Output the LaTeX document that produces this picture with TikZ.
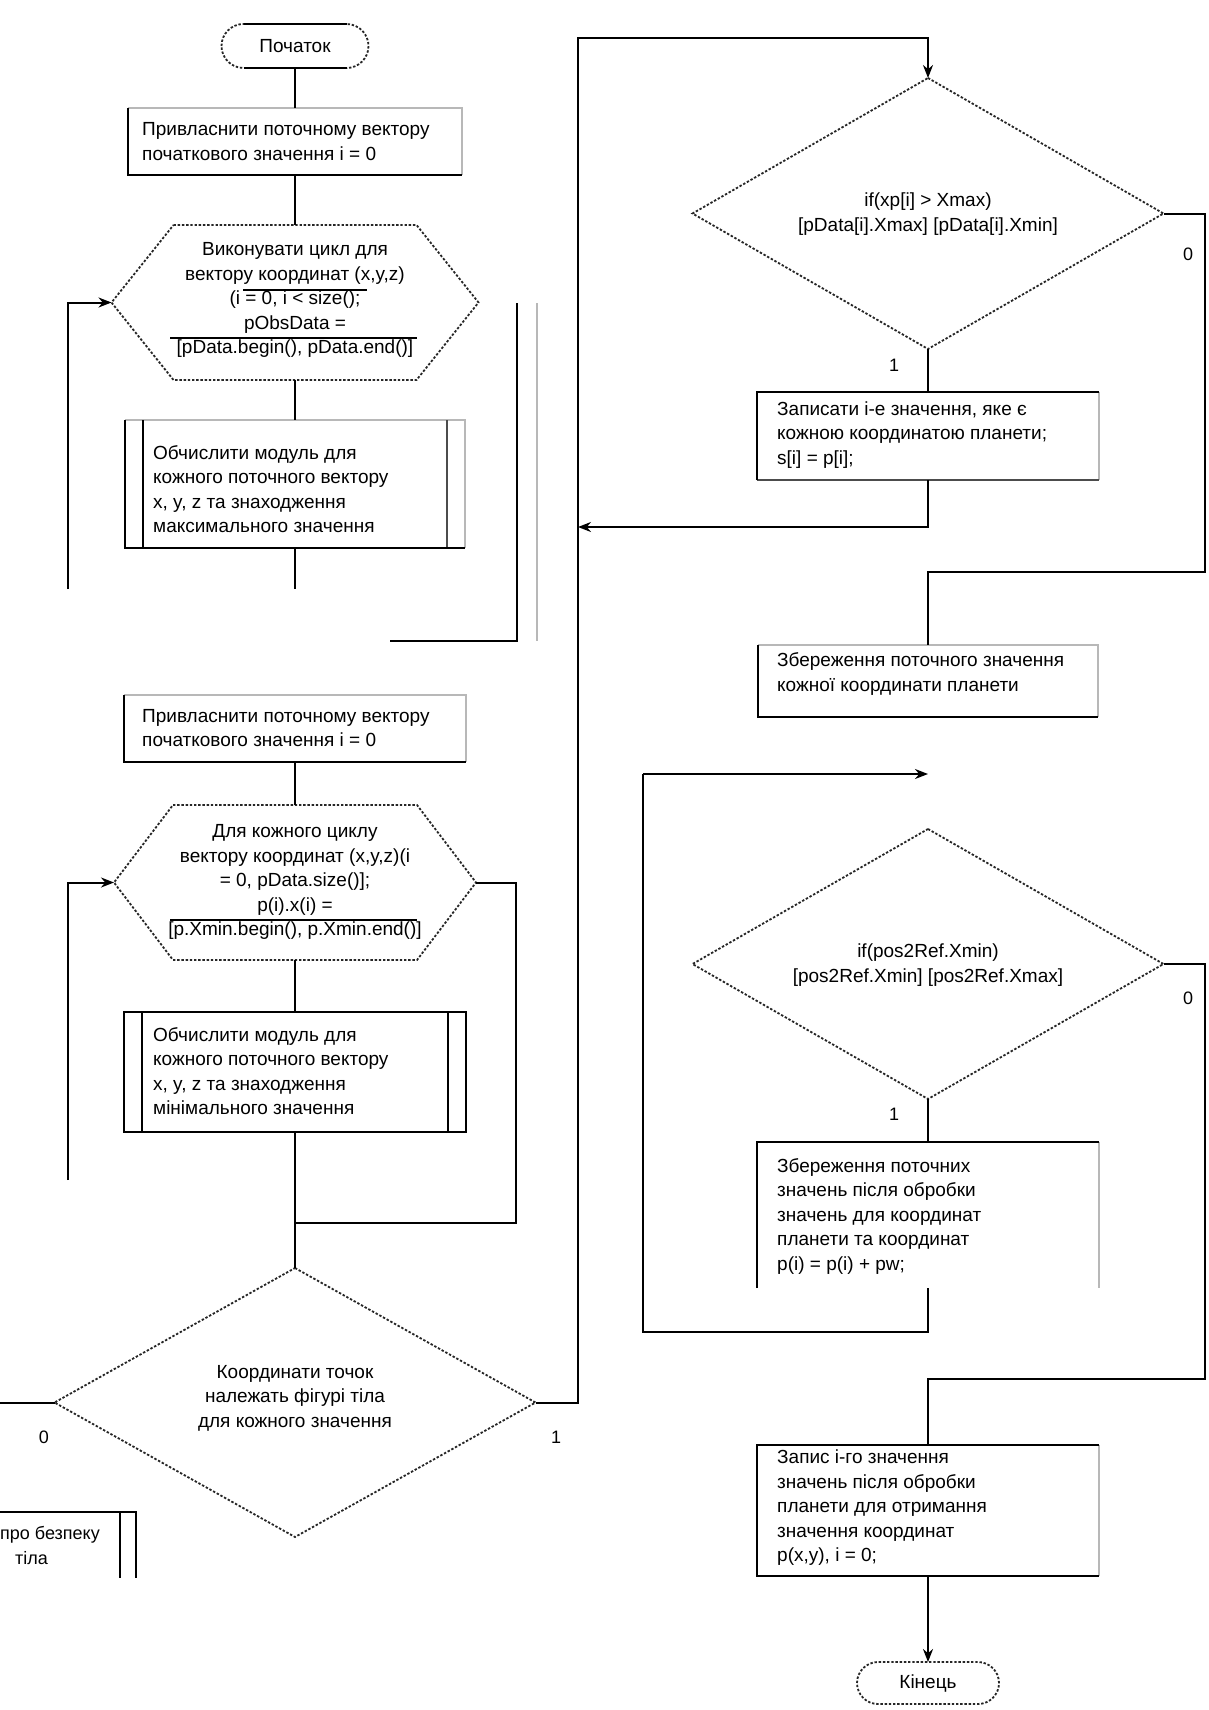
\documentclass[tikz,border=0pt]{standalone}
\usepackage{fontspec}
\setmainfont{Liberation Sans}
\usetikzlibrary{arrows.meta,calc}

\tikzset{
  edge/.style={line width=2.4pt, black},
  faint/.style={line width=1.2pt, black!28},
  mid/.style={line width=1.4pt, black!70},
  line/.style={line width=2pt, black},
  outline/.style={line width=1.8pt, dash pattern=on 2.4pt off 1.8pt, black!85},
  arr/.style={line, -{Stealth[length=13pt,width=10pt]}},
  frame/.style={draw=none, inner sep=0pt, outer sep=0pt},
  txt/.style={font=\fontsize{19}{24.5}\selectfont, align=left, inner sep=0pt, anchor=west},
  ctxt/.style={font=\fontsize{19}{24.5}\selectfont, align=center, inner sep=0pt},
  lbl/.style={font=\fontsize{18}{20}\selectfont, inner sep=0pt},
}

\begin{document}
\begin{tikzpicture}[x=1pt,y=-1pt]
\useasboundingbox[fill=white] (0,0) rectangle (1208,1710);

% ---------- shape frames ----------
\node[frame, minimum width=147, minimum height=44] (start) at (295,46) {};
\node[frame, minimum width=334, minimum height=67] (b1) at (295,141.5) {};
\node[frame, minimum width=367, minimum height=155] (h1) at (295,302.5) {};
\node[frame, minimum width=340, minimum height=128] (p1) at (295,484) {};
\node[frame, minimum width=342, minimum height=67] (b2) at (295,728.5) {};
\node[frame, minimum width=362, minimum height=155] (h2) at (295,882.5) {};
\node[frame, minimum width=342, minimum height=120] (p2) at (295,1072) {};
\node[frame, minimum width=481, minimum height=269] (d1) at (295,1402.5) {};
\node[frame, minimum width=471, minimum height=271] (d2) at (928,213.5) {};
\node[frame, minimum width=342, minimum height=88] (r1) at (928,436) {};
\node[frame, minimum width=340, minimum height=72] (r2) at (928,681) {};
\node[frame, minimum width=471, minimum height=270] (d3) at (928,964) {};
\node[frame, minimum width=342, minimum height=146] (r3) at (928,1215) {};
\node[frame, minimum width=342, minimum height=131] (r4) at (928,1510.5) {};
\node[frame, minimum width=142, minimum height=42] (end) at (928,1683) {};

% ---------- terminals ----------
\draw[outline, rounded corners=22pt] (start.south west) rectangle (start.north east);
\draw[edge] ([xshift=22]start.north west) -- ([xshift=-22]start.north east);
\draw[edge] ([xshift=22]start.south west) -- ([xshift=-22]start.south east);
\node[ctxt] (startt) at (start) {Початок};

\draw[outline, rounded corners=21pt] (end.south west) rectangle (end.north east);
\node[ctxt] (endt) at (end) {Кінець};

% ---------- process boxes ----------
\draw[faint] (b1.north west) -- (b1.north east) -- (b1.south east);
\draw[edge] (b1.north west) -- (b1.south west) -- (b1.south east);
\node[txt] (b1t) at (142,141.5) {Привласнити поточному вектору\\початкового значення i = 0};

\draw[faint] (b2.north west) -- (b2.north east) -- (b2.south east);
\draw[edge] (b2.north west) -- (b2.south west) -- (b2.south east);
\node[txt] (b2t) at (142,728) {Привласнити поточному вектору\\початкового значення i = 0};

% ---------- loop hexagons ----------
\draw[outline] ([xshift=62]h1.north west) -- ([xshift=-62]h1.north east) -- (h1.east)
  -- ([xshift=-62]h1.south east) -- ([xshift=62]h1.south west) -- (h1.west) -- cycle;
\node[ctxt] (h1t) at (295,300) {Виконувати цикл для\\вектору координат (x,y,z)\\(i = 0, i < size();\\pObsData =\\{}[pData.begin(), pData.end()]};
\draw[line, line width=1.5pt] (243,290) -- (367,290);
\draw[line, line width=1.5pt] (170,338) -- (417,338);

\draw[outline] ([xshift=59]h2.north west) -- ([xshift=-59]h2.north east) -- (h2.east)
  -- ([xshift=-59]h2.south east) -- ([xshift=59]h2.south west) -- (h2.west) -- cycle;
\node[ctxt] (h2t) at (295,882) {Для кожного циклу\\вектору координат (x,y,z)(i\\= 0, pData.size()];\\p(i).x(i) =\\{}[p.Xmin.begin(), p.Xmin.end()]};
\draw[line, line width=1.5pt] (170,920) -- (417,920);

% ---------- predefined processes ----------
\draw[faint] (p1.north west) -- (p1.north east) -- (p1.south east);
\draw[mid] ([xshift=-18]p1.north east) -- ([xshift=-18]p1.south east);
\draw[edge] (p1.north west) -- (p1.south west) -- (p1.south east);
\draw[edge] ([xshift=18]p1.north west) -- ([xshift=18]p1.south west);
\node[txt] (p1t) at (153,489) {Обчислити модуль для\\кожного поточного вектору\\x, y, z та знаходження\\максимального значення};

\draw[edge] (p2.north west) rectangle (p2.south east);
\draw[edge] ([xshift=18]p2.north west) -- ([xshift=18]p2.south west);
\draw[edge] ([xshift=-18]p2.north east) -- ([xshift=-18]p2.south east);
\node[txt] (p2t) at (153,1071) {Обчислити модуль для\\кожного поточного вектору\\x, y, z та знаходження\\мінімального значення};

% ---------- decisions ----------
\draw[outline] (d1.north) -- (d1.east) -- (d1.south) -- (d1.west) -- cycle;
\node[ctxt] (d1t) at (295,1398) {Координати точок\\належать фігурі тіла\\для кожного значення};

\draw[outline] (d2.north) -- (d2.east) -- (d2.south) -- (d2.west) -- cycle;
\node[ctxt] (d2t) at (928,214) {if(xp[i] > Xmax)\\{}[pData[i].Xmax] [pData[i].Xmin]};

\draw[outline] (d3.north) -- (d3.east) -- (d3.south) -- (d3.west) -- cycle;
\node[ctxt] (d3t) at (928,965) {if(pos2Ref.Xmin)\\{}[pos2Ref.Xmin] [pos2Ref.Xmax]};

% ---------- right column boxes ----------
\draw[faint] (r1.north east) -- (r1.south east);
\draw[mid] (r1.south west) -- (r1.south east);
\draw[edge] (r1.south west) -- (r1.north west) -- (r1.north east);
\node[txt] (r1t) at (777,435) {Записати i-е значення, яке є\\кожною координатою планети;\\s[i] = p[i];};

\draw[faint] (r2.north west) -- (r2.north east) -- (r2.south east);
\draw[edge] (r2.north west) -- (r2.south west) -- (r2.south east);
\node[txt] (r2t) at (777,674) {Збереження поточного значення\\кожної координати планети};

\draw[faint] (r3.north east) -- (r3.south east);
\draw[edge] (r3.south west) -- (r3.north west) -- (r3.north east);
\node[txt] (r3t) at (777,1216) {Збереження поточних\\значень після обробки\\значень для координат\\планети та координат\\p(i) = p(i) + pw;};

\draw[faint] (r4.north east) -- (r4.south east);
\draw[edge] (r4.north east) -- (r4.north west) -- (r4.south west) -- (r4.south east);
\node[txt] (r4t) at (777,1508) {Запис i-го значення\\значень після обробки\\планети для отримання\\значення координат\\p(x,y), i = 0;};

% ---------- box at the left border ----------
\coordinate (q1) at (-10,1512);
\coordinate (q2) at (136,1512);
\coordinate (q3) at (120,1512);
\coordinate (q4) at (120,1578);
\coordinate (q5) at (136,1578);
\draw[edge] (q1) -- (q2) -- (q5);
\draw[edge] (q3) -- (q4);
\node[lbl, anchor=base east] (qt1) at (100,1539) {про безпеку};
\node[lbl, anchor=base east] (qt2) at (48,1564) {тіла};

% ---------- connectors, left column ----------
\draw[line] (start.south) -- (b1.north);
\draw[line] (b1.south) -- (h1.north);
\draw[line] (h1.south) -- (p1.north);
\coordinate (c1) at (295,589);
\draw[line] (p1.south) -- (c1);
\coordinate (l1) at (68,589);
\draw[arr] (l1) |- (h1.west);
\coordinate (s0) at (517,303);
\coordinate (s1) at (517,641);
\coordinate (s2) at (390,641);
\draw[line] (s0) -- (s1) -- (s2);
\coordinate (s5) at (537,303);
\coordinate (s6) at (537,641);
\draw[faint] (s5) -- (s6);

\draw[line] (b2.south) -- (h2.north);
\draw[line] (h2.south) -- (p2.north);
\draw[line] (p2.south) -- (d1.north);
\coordinate (l2) at (68,1180);
\draw[arr] (l2) |- (h2.west);
\coordinate (s3) at (516,1223);
\coordinate (s4) at (295,1223);
\draw[line] (h2.east) -| (s3) -- (s4);

\coordinate (x0) at (0,1402.5);
\draw[line] (d1.west) -- (x0);
\node[lbl] (n0) at (44,1437) {0};
\node[lbl] (n1) at (556,1437) {1};

% ---------- connectors, right column ----------
\coordinate (j1) at (578,1402.5);
\coordinate (j2) at (578,38);
\coordinate (j3) at (928,38);
\draw[arr] (d1.east) -- (j1) -- (j2) -- (j3) -- (d2.north);

\draw[line] (d2.south) -- (r1.north);
\node[lbl] (n2) at (894,365) {1};
\coordinate (k1) at (928,527);
\coordinate (k2) at (578,527);
\draw[arr] (r1.south) -- (k1) -- (k2);

\coordinate (e2) at (1205,572);
\coordinate (e3) at (928,572);
\draw[line] (d2.east) -| (e2) -- (e3) -- (r2.north);
\node[lbl] (n3) at (1188,254) {0};

\coordinate (g1) at (928,1332);
\coordinate (g2) at (643,1332);
\coordinate (g3) at (643,774);
\coordinate (g4) at (928,774);
\draw[line] (r3.south) -- (g1) -- (g2) -- (g3);
\draw[arr] (g3) -- (g4);

\draw[line] (d3.south) -- (r3.north);
\node[lbl] (n4) at (894,1114) {1};
\coordinate (f2) at (1205,1379);
\coordinate (f3) at (928,1379);
\draw[line] (d3.east) -| (f2) -- (f3) -- (r4.north);
\node[lbl] (n5) at (1188,998) {0};

\draw[arr] (r4.south) -- (end.north);
\end{tikzpicture}
\end{document}
